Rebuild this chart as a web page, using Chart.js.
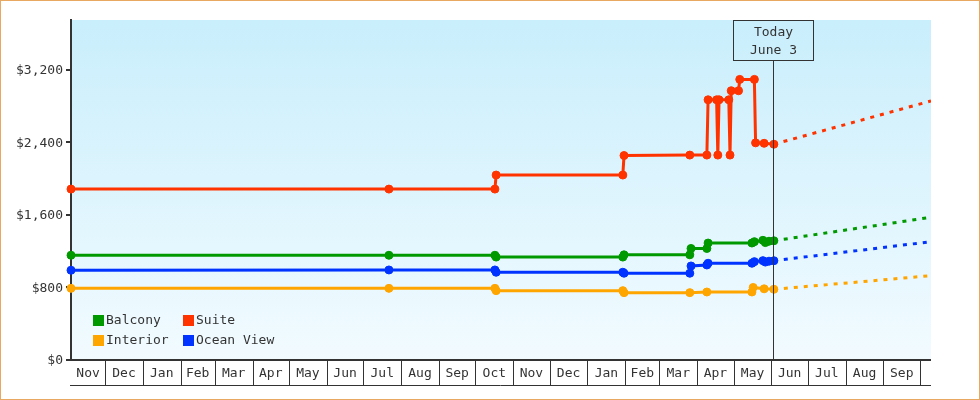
<!DOCTYPE html>
<html>
<head>
<meta charset="utf-8">
<script src="https://cdn.jsdelivr.net/npm/chart.js@4.4.1/dist/chart.umd.min.js"></script>
<style>
  html, body { margin: 0; padding: 0; background: #fff; }
  #chart { display: block; }
</style>
</head>
<body>
<canvas id="chart" width="980" height="400"></canvas>
<script>
// fare history per cabin type, one price per observation date
const startDate = '2012-11-03';
const endDate = '2014-10-10';
const todayDate = '2014-06-03';
const todayLabel = ['Today', 'June 3'];

const monthNames = ['Jan', 'Feb', 'Mar', 'Apr', 'May', 'Jun', 'Jul', 'Aug', 'Sep', 'Oct', 'Nov', 'Dec'];
const yTicks = [0, 800, 1600, 2400, 3200];
const yMax = 3750;

const balconyDates = ['2012-11-03', '2013-07-22', '2013-10-17', '2013-10-18', '2014-01-30', '2014-01-31',
  '2014-03-26', '2014-03-27', '2014-04-09', '2014-04-10', '2014-05-16', '2014-05-18', '2014-05-25',
  '2014-05-27', '2014-05-30', '2014-06-03'];
const balconyPrices = [1155, 1155, 1155, 1135, 1135, 1160, 1160, 1230, 1230, 1290, 1290, 1305, 1320,
  1295, 1310, 1315];

const suiteDates = ['2012-11-03', '2013-07-22', '2013-10-17', '2013-10-18', '2014-01-30', '2014-01-31',
  '2014-03-26', '2014-04-09', '2014-04-10', '2014-04-17', '2014-04-18', '2014-04-19', '2014-04-27',
  '2014-04-28', '2014-04-29', '2014-05-05', '2014-05-06', '2014-05-18', '2014-05-19', '2014-05-26',
  '2014-06-03'];
const suitePrices = [1885, 1885, 1885, 2040, 2040, 2255, 2260, 2260, 2870, 2870, 2260, 2870, 2870,
  2260, 2970, 2970, 3095, 3095, 2395, 2390, 2380];

const interiorDates = ['2012-11-03', '2013-07-22', '2013-10-17', '2013-10-18', '2014-01-30', '2014-01-31',
  '2014-03-26', '2014-04-09', '2014-05-16', '2014-05-17', '2014-05-26', '2014-06-03'];
const interiorPrices = [790, 790, 790, 765, 765, 743, 743, 750, 750, 800, 785, 780];

const oceanDates = ['2012-11-03', '2013-07-22', '2013-10-17', '2013-10-18', '2014-01-30', '2014-01-31',
  '2014-03-26', '2014-03-27', '2014-04-09', '2014-04-10', '2014-05-16', '2014-05-18', '2014-05-25',
  '2014-05-27', '2014-05-30', '2014-06-03'];
const oceanPrices = [990, 993, 993, 968, 968, 957, 957, 1037, 1048, 1067, 1067, 1085, 1096,
  1080, 1090, 1095];

// projection from today to the end of the range
const forecastDates = [todayDate, endDate];
const balconyForecast = [1315, 1574];
const suiteForecast = [2380, 2857];
const interiorForecast = [780, 930];
const oceanForecast = [1095, 1305];

const colors = {
  balcony: '#009900',
  suite: '#ff3300',
  interior: '#ffa500',
  ocean: '#0033ff'
};

const FONT = '"DejaVu Sans Mono", "Liberation Mono", monospace';
const INK = '#333';

function toDate(s) {
  const [y, m, d] = s.split('-').map(Number);
  return new Date(Date.UTC(y, m - 1, d));
}
function dayIndex(s) {
  const d = typeof s === 'string' ? toDate(s) : s;
  return (d - toDate(startDate)) / 86400000;
}
function points(dates, values) {
  return dates.map((d, i) => ({ x: dayIndex(d), y: values[i] }));
}

function solid(label, color, dates, values) {
  return {
    label,
    data: points(dates, values),
    borderColor: color,
    backgroundColor: color,
    borderWidth: 3,
    pointRadius: 4,
    pointBorderWidth: 1,
    pointBackgroundColor: color,
    pointBorderColor: color,
    clip: false,
    showInLegend: true
  };
}
function dashed(color, values) {
  return {
    label: '',
    data: points(forecastDates, values),
    borderColor: color,
    borderWidth: 3,
    borderDash: [4, 6],
    pointRadius: 0,
    showInLegend: false
  };
}

const chartFrame = {
  id: 'chartFrame',
  beforeDraw(chart) {
    const { ctx, chartArea: a } = chart;
    ctx.save();
    ctx.fillStyle = '#fff';
    ctx.fillRect(0, 0, chart.width, chart.height);
    const g = ctx.createLinearGradient(0, a.top, 0, a.bottom);
    g.addColorStop(0, '#c9eefc');
    g.addColorStop(1, '#f2fbff');
    ctx.fillStyle = g;
    ctx.fillRect(a.left, a.top, a.right - a.left, a.bottom - a.top);
    ctx.strokeStyle = '#e9a862';
    ctx.lineWidth = 1;
    ctx.strokeRect(0.5, 0.5, chart.width - 1, chart.height - 1);
    ctx.restore();
  }
};

// month cells under the plot, today marker and legend
const extras = {
  id: 'extras',
  afterDraw(chart) {
    const { ctx, chartArea: a, scales: { x } } = chart;
    const yTop = a.bottom;
    const yBot = a.bottom + 25;
    ctx.save();
    ctx.strokeStyle = INK;
    ctx.fillStyle = INK;
    ctx.font = '13px ' + FONT;
    ctx.textAlign = 'center';
    ctx.textBaseline = 'middle';

    const end = toDate(endDate);
    const s = toDate(startDate);
    let d = new Date(Date.UTC(s.getUTCFullYear(), s.getUTCMonth(), 1));
    ctx.lineWidth = 1;
    while (d < end) {
      const next = new Date(Date.UTC(d.getUTCFullYear(), d.getUTCMonth() + 1, 1));
      const l = Math.max(a.left, x.getPixelForValue(dayIndex(d)));
      const r = Math.min(a.right, x.getPixelForValue(dayIndex(next)));
      if (next <= end) {
        const px = Math.round(r) + 0.5;
        ctx.beginPath();
        ctx.moveTo(px, yTop);
        ctx.lineTo(px, yBot);
        ctx.stroke();
      }
      if (r - l > 24) {
        ctx.fillText(monthNames[d.getUTCMonth()], (l + r) / 2, (yTop + yBot) / 2 + 1);
      }
      d = next;
    }
    ctx.beginPath();
    ctx.moveTo(a.left - 1, yBot + 0.5);
    ctx.lineTo(a.right, yBot + 0.5);
    ctx.stroke();

    ctx.lineWidth = 2;
    ctx.beginPath();
    ctx.moveTo(a.left - 1, yTop);
    ctx.lineTo(a.right, yTop);
    ctx.stroke();

    // today marker
    const tx = Math.round(x.getPixelForValue(dayIndex(todayDate))) - 0.5;
    ctx.lineWidth = 1;
    ctx.strokeRect(tx - 40, a.top + 0.5, 80, 40);
    ctx.beginPath();
    ctx.moveTo(tx, a.top + 40.5);
    ctx.lineTo(tx, a.bottom);
    ctx.stroke();
    ctx.fillText(todayLabel[0], tx, a.top + 13);
    ctx.fillText(todayLabel[1], tx, a.top + 31);

    // legend, two columns
    ctx.textAlign = 'left';
    const items = chart.data.datasets.filter(ds => ds.showInLegend);
    items.forEach((ds, i) => {
      const lx = a.left + 22 + (i % 2) * 90;
      const ly = a.bottom - 45 + Math.floor(i / 2) * 20;
      ctx.fillStyle = ds.borderColor;
      ctx.fillRect(lx, ly, 11, 11);
      ctx.fillStyle = INK;
      ctx.fillText(ds.label, lx + 13, ly + 6);
    });
    ctx.restore();
  }
};

new Chart(document.getElementById('chart'), {
  type: 'line',
  data: {
    datasets: [
      solid('Balcony', colors.balcony, balconyDates, balconyPrices),
      solid('Suite', colors.suite, suiteDates, suitePrices),
      solid('Interior', colors.interior, interiorDates, interiorPrices),
      solid('Ocean View', colors.ocean, oceanDates, oceanPrices),
      dashed(colors.balcony, balconyForecast),
      dashed(colors.suite, suiteForecast),
      dashed(colors.interior, interiorForecast),
      dashed(colors.ocean, oceanForecast)
    ]
  },
  options: {
    responsive: false,
    animation: false,
    devicePixelRatio: 1,
    layout: { padding: { top: 20, right: 49, bottom: 40, left: 0 } },
    elements: { line: { tension: 0 } },
    scales: {
      x: {
        type: 'linear',
        display: false,
        min: 0,
        max: dayIndex(endDate)
      },
      y: {
        min: 0,
        max: yMax,
        afterBuildTicks: (scale) => { scale.ticks = yTicks.map(v => ({ value: v })); },
        afterFit: (scale) => { scale.width = 71; },
        ticks: {
          color: INK,
          padding: 3,
          labelOffset: 1,
          font: { family: FONT, size: 13 },
          callback: (v) => '$' + v.toLocaleString('en-US')
        },
        grid: { drawOnChartArea: false, tickLength: 5, color: INK, lineWidth: 2 },
        border: { display: true, color: INK, width: 2 }
      }
    },
    plugins: {
      legend: { display: false },
      tooltip: { enabled: false }
    }
  },
  plugins: [chartFrame, extras]
});
</script>
</body>
</html>
